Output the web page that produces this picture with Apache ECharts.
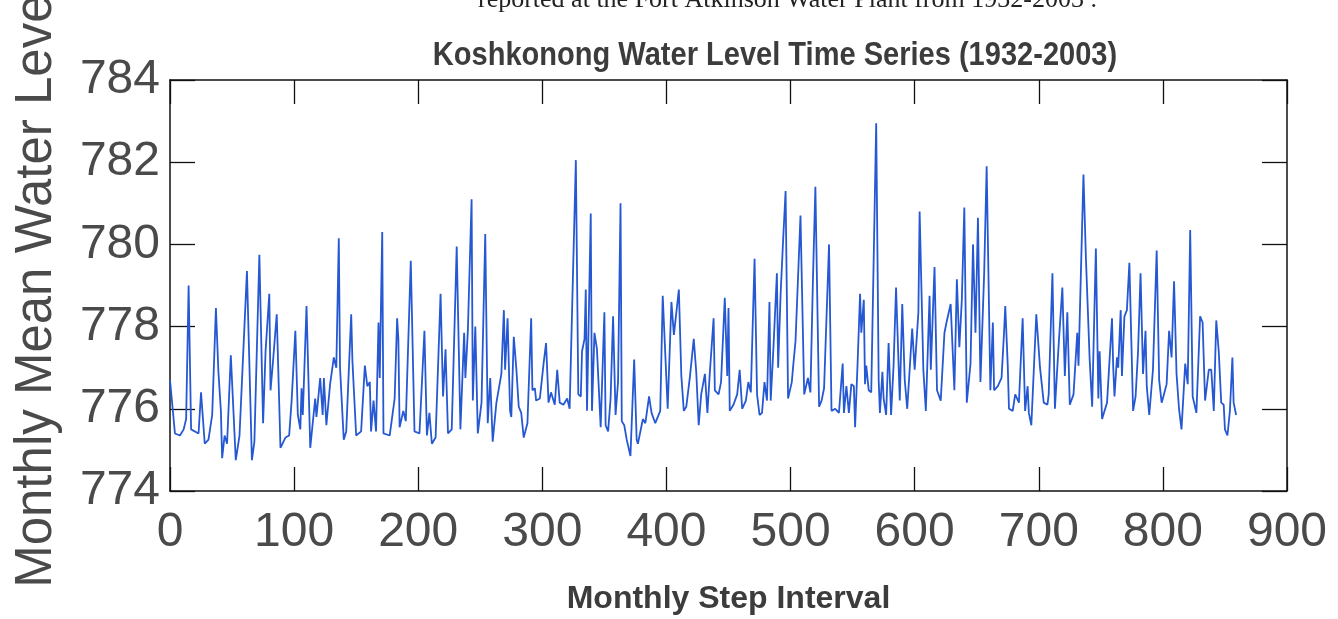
<!DOCTYPE html>
<html>
<head>
<meta charset="utf-8">
<title>Koshkonong Water Level Time Series (1932-2003)</title>
<script src="https://cdn.jsdelivr.net/npm/echarts@6/dist/echarts.min.js"></script>
<style>
  html, body { margin: 0; padding: 0; background: #fff; }
  #chart { width: 1338px; height: 619px; }
</style>
</head>
<body>
<div id="chart"></div>
<script>
// Monthly mean water level (ft) of Lake Koshkonong, month index from Jan 1932: [month, level]
const levelReadings = [
  [0,776.7],[4,775.4],[8,775.35],[11,775.5],[13,775.75],[15,779.0],[17,775.5],[23,775.4],[25,776.4],[28,775.15],
  [31,775.25],[34,775.85],[37,778.45],[39,776.9],[41,775.95],[42,774.8],[44,775.35],[46,775.15],[49,777.3],[53,774.75],
  [56,775.35],[62,779.35],[66,774.75],[68,775.2],[72,779.75],[75,775.65],[77,777.4],[80,778.8],[81,776.45],[83,777.15],
  [86,778.3],[89,775.05],[93,775.3],[96,775.35],[98,776.2],[101,777.9],[103,775.85],[105,775.5],[106,776.5],[107,775.85],
  [110,778.5],[113,775.05],[117,776.25],[118,775.8],[121,776.75],[123,775.85],[124,776.75],[126,775.6],[129,776.6],[132,777.25],
  [134,777.0],[136,780.15],[137,777.0],[140,775.25],[142,775.45],[146,778.3],[147,777.15],[150,775.35],[154,775.45],[157,777.05],
  [159,776.55],[161,776.65],[162,775.45],[164,776.2],[166,775.45],[168,778.1],[169,776.75],[171,780.3],[172,775.4],[177,775.35],
  [181,776.25],[183,778.2],[184,777.7],[185,775.55],[188,775.95],[190,775.7],[194,779.6],[197,775.45],[201,775.4],[205,777.9],
  [207,775.35],[209,775.9],[211,775.15],[214,775.3],[218,778.8],[220,776.3],[222,777.45],[224,775.4],[227,775.5],[231,779.95],
  [234,775.5],[237,777.85],[238,776.75],[240,777.9],[243,781.1],[244,776.2],[246,778.0],[248,775.4],[251,776.15],[254,780.25],
  [256,775.65],[258,776.75],[260,775.2],[263,776.15],[267,776.85],[269,778.4],[270,776.95],[272,778.2],[274,775.95],[275,775.8],
  [277,777.75],[279,777.0],[281,776.05],[283,775.9],[285,775.3],[288,775.65],[291,778.2],[292,776.45],[294,776.5],[295,776.2],
  [298,776.25],[301,777.1],[303,777.6],[305,776.15],[307,776.4],[310,776.1],[312,776.95],[314,776.15],[317,776.1],[320,776.25],
  [322,776.0],[327,782.05],[329,776.35],[331,776.3],[332,777.4],[334,777.7],[335,778.9],[336,775.95],[339,780.75],[340,775.95],
  [342,777.85],[344,777.45],[347,775.55],[350,778.35],[351,775.6],[353,775.45],[355,776.25],[357,778.25],[359,775.85],[361,776.65],
  [363,781.0],[364,775.7],[366,775.6],[368,775.25],[371,774.85],[374,777.2],[376,775.25],[377,775.15],[381,775.75],[383,775.65],
  [386,776.3],[388,775.9],[391,775.65],[395,775.95],[397,778.75],[401,776.0],[404,778.6],[406,777.8],[410,778.9],[412,776.8],
  [414,775.95],[416,776.05],[419,776.8],[422,777.7],[424,776.9],[426,775.6],[428,776.35],[431,776.85],[433,775.9],[435,776.9],
  [438,778.2],[439,776.45],[442,776.35],[444,776.65],[447,778.7],[449,776.8],[450,778.45],[451,775.95],[454,776.1],[457,776.35],
  [459,776.95],[461,776.0],[464,776.2],[466,776.65],[468,776.4],[471,779.65],[473,776.35],[475,775.85],[477,775.9],[479,776.65],
  [481,776.2],[483,778.6],[484,776.2],[486,777.35],[489,779.3],[490,777.0],[492,778.8],[494,780.1],[496,781.3],[498,776.25],
  [501,776.65],[502,777.0],[504,777.65],[508,780.7],[511,776.35],[514,776.75],[516,776.4],[518,779.1],[520,781.4],[523,776.05],
  [525,776.2],[527,776.5],[531,780.0],[533,775.95],[536,776.0],[539,775.9],[542,777.1],[543,775.9],[545,776.55],[547,775.9],
  [549,776.6],[551,776.55],[552,775.55],[554,777.1],[556,778.8],[557,777.85],[559,778.65],[560,776.6],[561,777.05],[563,776.45],
  [565,776.4],[569,782.95],[571,776.7],[572,775.9],[574,776.9],[575,776.25],[577,775.85],[579,777.6],[581,775.85],[583,777.05],
  [585,778.95],[588,776.2],[590,778.55],[592,776.7],[594,776.0],[598,777.95],[600,776.95],[603,778.35],[604,780.8],[607,776.95],
  [609,775.95],[612,778.75],[613,776.95],[616,779.45],[618,776.45],[621,776.2],[624,777.85],[626,778.15],[629,778.55],[632,776.45],
  [634,779.15],[636,777.5],[638,778.65],[640,780.9],[642,776.15],[645,777.1],[647,780.0],[649,777.85],[651,780.65],[653,776.65],
  [656,779.3],[658,781.9],[661,776.45],[663,778.1],[664,776.45],[667,776.55],[670,776.75],[672,777.85],[673,778.5],[675,777.05],
  [676,776.0],[679,775.95],[681,776.35],[684,776.15],[687,778.2],[689,775.95],[691,776.55],[692,775.9],[694,775.6],[698,778.3],
  [701,777.0],[704,776.15],[707,776.1],[708,776.35],[711,779.3],[713,776.0],[716,777.55],[719,778.95],[721,776.8],[723,778.35],
  [725,776.1],[728,776.35],[731,777.85],[732,777.05],[736,781.7],[738,779.65],[741,777.2],[743,776.05],[746,779.9],[748,776.25],
  [749,777.4],[751,775.75],[755,776.15],[759,778.2],[760,777.0],[761,776.3],[763,777.25],[764,777.0],[766,778.4],[767,776.8],
  [769,778.25],[771,778.4],[773,779.55],[776,775.95],[778,776.3],[780,777.4],[782,779.3],[784,776.85],[786,777.9],[787,776.55],
  [789,775.85],[792,776.95],[795,779.85],[797,776.7],[799,776.15],[800,776.25],[803,776.6],[805,777.9],[807,777.25],[809,779.1],
  [811,776.85],[813,776.0],[815,775.5],[818,777.1],[820,776.6],[822,780.35],[824,776.3],[827,775.9],[830,778.25],[832,778.1],
  [834,776.2],[837,776.95],[839,776.95],[841,775.95],[843,778.15],[845,777.4],[847,776.15],[849,776.1],[850,775.5],[852,775.35],
  [854,775.95],[856,777.25],[857,776.15],[859,775.85]
];

// Axis ranges and tick steps
const xRange = [0, 900];
const xStep = 100;
const yRange = [774, 784];
const yStep = 2;

const titleText = 'Koshkonong Water Level Time Series (1932-2003)';
const xName = 'Monthly Step Interval';
const yName = 'Monthly Mean Water Level';
const captionText = 'reported at the Fort Atkinson Water Plant from 1932-2003 .';

const sans = "'Liberation Sans', Arial, Helvetica, sans-serif";
// Box frame: every axis line stays on its own grid edge
const frame = { show: true, onZero: false, lineStyle: { color: '#111', width: 1.5 } };
const innerTick = (len) => ({ show: true, inside: true, length: len, lineStyle: { color: '#111', width: 1.3 } });

const chart = echarts.init(document.getElementById('chart'), null, { renderer: 'canvas' });

chart.setOption({
  animation: false,
  backgroundColor: '#ffffff',
  grid: { left: 170, right: 51, top: 80, bottom: 128, containLabel: false, outerBoundsMode: 'none' },
  graphic: [
    {
      type: 'text', x: 478, y: -13, silent: true,
      style: { text: captionText, font: "26px 'Liberation Serif', 'Times New Roman', serif", fill: '#222' }
    },
    {
      type: 'text', x: 775, y: 56, scaleX: 0.88, silent: true,
      style: {
        text: titleText, font: "bold 33px " + sans, fill: '#3c3c3c',
        textAlign: 'center', textVerticalAlign: 'middle'
      }
    }
  ],
  xAxis: [
    {
      type: 'value', position: 'bottom', min: xRange[0], max: xRange[1], interval: xStep,
      axisLine: frame,
      axisTick: innerTick(24),
      axisLabel: { color: '#4a4a4a', fontSize: 48, fontFamily: sans, margin: 18 },
      splitLine: { show: false },
      name: xName, nameLocation: 'middle', nameGap: 92,
      nameTextStyle: { color: '#3c3c3c', fontSize: 32, fontWeight: 'bold', fontFamily: sans }
    },
    {
      type: 'value', position: 'top', min: xRange[0], max: xRange[1], interval: xStep,
      axisLine: frame,
      axisTick: innerTick(24),
      axisLabel: { show: false },
      splitLine: { show: false }
    }
  ],
  yAxis: [
    {
      type: 'value', position: 'left', min: yRange[0], max: yRange[1], interval: yStep,
      axisLine: frame,
      axisTick: innerTick(25),
      axisLabel: { color: '#4a4a4a', fontSize: 48, fontFamily: sans, margin: 10 },
      splitLine: { show: false },
      name: yName, nameLocation: 'middle', nameGap: 108, nameRotate: 90,
      nameTextStyle: { color: '#4a4a4a', fontSize: 51, fontFamily: sans }
    },
    {
      type: 'value', position: 'right', min: yRange[0], max: yRange[1], interval: yStep,
      axisLine: frame,
      axisTick: innerTick(25),
      axisLabel: { show: false },
      splitLine: { show: false }
    }
  ],
  series: [
    {
      type: 'line',
      name: yName,
      xAxisIndex: 0,
      yAxisIndex: 0,
      data: levelReadings,
      showSymbol: false,
      symbol: 'none',
      lineStyle: { color: '#2558d2', width: 1.8 },
      z: 3
    }
  ]
});
</script>
</body>
</html>
